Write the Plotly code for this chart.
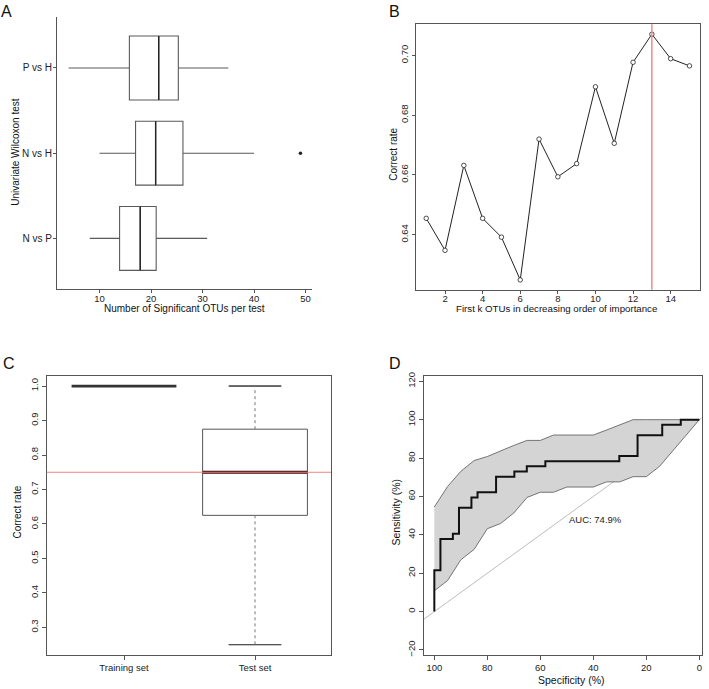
import plotly.graph_objects as go

W, H = 709, 689
FONT = "Liberation Sans, Arial, sans-serif"

# === Panel A: number of significant OTUs per Wilcoxon test ===
a_groups = ["N vs P", "N vs H", "P vs H"]
a_low = [8.1, 10.0, 4.0]
a_q1 = [13.9, 17.0, 15.8]
a_med = [17.9, 20.9, 21.5]
a_q3 = [21.0, 26.2, 25.3]
a_high = [30.9, 40.0, 35.0]
a_out_group = ["N vs H"]
a_out_value = [49]

# === Panel B: correct rate vs first k OTUs ===
b_k = [1, 2, 3, 4, 5, 6, 7, 8, 9, 10, 11, 12, 13, 14, 15]
b_rate = [0.6455, 0.6348, 0.6632, 0.6455, 0.6392, 0.6249, 0.6720, 0.6594,
          0.6638, 0.6895, 0.6706, 0.6977, 0.7071, 0.6989, 0.6965]
b_best_k = 13

# === Panel C: training vs test correct rate ===
c_groups = ["Training set", "Test set"]
c_min = [1.0, 0.25]
c_q1 = [1.0, 0.625]
c_med = [1.0, 0.75]
c_q3 = [1.0, 0.875]
c_max = [1.0, 1.0]
c_ref = 0.75

# === Panel D: ROC curve with CI band ===
d_spec = [100, 100, 97.7, 93.0, 90.7, 86.0, 83.7, 76.7, 69.8, 65.1, 58.1, 30.2, 23.3, 14.0, 7.0, 0]
d_sens = [0, 21.6, 37.8, 40.5, 54.1, 59.5, 62.2, 70.3, 73.0, 75.7, 78.4, 81.1, 91.9, 97.3, 100, 100]
d_ci_spec = [100, 95, 90, 85, 80, 75, 70, 65, 60, 55, 50, 45, 40, 35, 30, 25, 20, 15, 10, 5, 0]
d_ci_upper = [54.5, 65.2, 73.1, 78.7, 80.8, 83.9, 86.6, 89.2, 89.2, 92.0, 92.0, 92.0, 92.0,
              94.6, 97.3, 100, 100, 100, 100, 100, 100]
d_ci_lower = [10.8, 16.2, 27.0, 32.4, 43.2, 45.9, 51.4, 59.5, 62.2, 62.2, 64.9, 64.9, 64.9,
              67.6, 67.6, 70.3, 70.3, 75.7, 83.8, 91.9, 100]
d_auc_text = "AUC: 74.9%"

fig = go.Figure()

# --- A ---
fig.add_trace(go.Box(
    y=a_groups, q1=a_q1, median=a_med, q3=a_q3, lowerfence=a_low, upperfence=a_high,
    orientation="h", width=0.75, whiskerwidth=0, boxpoints=False,
    line=dict(color="#5a5a5a", width=1.1), fillcolor="white",
    xaxis="x", yaxis="y", hoverinfo="skip"))
fig.add_trace(go.Box(
    y=a_groups, q1=a_med, median=a_med, q3=a_med, lowerfence=a_med, upperfence=a_med,
    orientation="h", width=0.75, whiskerwidth=0, boxpoints=False,
    line=dict(color="#222", width=1.4), fillcolor="rgba(0,0,0,0)",
    xaxis="x", yaxis="y", hoverinfo="skip"))
fig.add_trace(go.Scatter(
    x=a_out_value, y=a_out_group, mode="markers",
    marker=dict(color="#222", size=3.5), xaxis="x", yaxis="y"))

# --- B ---
fig.add_trace(go.Scatter(
    x=b_k, y=b_rate, mode="lines+markers",
    line=dict(color="#222", width=1),
    marker=dict(symbol="circle", size=4.5, color="white", line=dict(color="#222", width=0.8)),
    xaxis="x2", yaxis="y2"))
fig.add_shape(type="line", xref="x2", yref="y2 domain", x0=b_best_k, x1=b_best_k, y0=0, y1=1,
              line=dict(color="#f08a8a", width=1.5))

# --- C ---
for g, lo, q1, md, q3, hi in zip(c_groups, c_min, c_q1, c_med, c_q3, c_max):
    if q1 == q3:
        fig.add_trace(go.Box(
            x=[g], q1=[q1], median=[md], q3=[q3], lowerfence=[q1], upperfence=[q3],
            width=0.8, whiskerwidth=0, boxpoints=False,
            line=dict(color="#333", width=2.8), fillcolor="white",
            xaxis="x3", yaxis="y3", hoverinfo="skip"))
        continue
    # dashed whiskers
    fig.add_trace(go.Scatter(x=[g, g], y=[q3, hi], mode="lines",
                             line=dict(color="#777", width=1, dash="dot"),
                             xaxis="x3", yaxis="y3"))
    fig.add_trace(go.Scatter(x=[g, g], y=[q1, lo], mode="lines",
                             line=dict(color="#777", width=1, dash="dot"),
                             xaxis="x3", yaxis="y3"))
    # box
    fig.add_trace(go.Box(
        x=[g], q1=[q1], median=[md], q3=[q3], lowerfence=[q1], upperfence=[q3],
        width=0.8, whiskerwidth=0, boxpoints=False,
        line=dict(color="#555", width=1), fillcolor="white",
        xaxis="x3", yaxis="y3", hoverinfo="skip"))
    # staples and thick median
    for v, wdt, lw, col in [(lo, 0.4, 1, "#555"), (hi, 0.4, 1, "#555"), (md, 0.8, 2.8, "#3a0d0d")]:
        fig.add_trace(go.Box(
            x=[g], q1=[v], median=[v], q3=[v], lowerfence=[v], upperfence=[v],
            width=wdt, whiskerwidth=0, boxpoints=False,
            line=dict(color=col, width=lw), fillcolor="rgba(0,0,0,0)",
            xaxis="x3", yaxis="y3", hoverinfo="skip"))
fig.add_shape(type="line", xref="x3 domain", yref="y3", x0=0, x1=1, y0=c_ref, y1=c_ref,
              line=dict(color="#f27f7f", width=1.1))

# --- D ---
d_xr = [103.9, -0.9]
fig.add_trace(go.Scatter(x=d_xr, y=[100 - v for v in d_xr], mode="lines",
                         line=dict(color="#bdbdbd", width=1), xaxis="x4", yaxis="y4"))
fig.add_trace(go.Scatter(
    x=d_ci_spec + d_ci_spec[::-1], y=d_ci_upper + d_ci_lower[::-1],
    mode="lines", fill="toself", fillcolor="#d4d4d4",
    line=dict(color="#666", width=0.9), xaxis="x4", yaxis="y4"))
fig.add_trace(go.Scatter(x=d_spec, y=d_sens, mode="lines", line_shape="hv",
                         line=dict(color="#111", width=2), xaxis="x4", yaxis="y4"))
fig.add_annotation(x=50, y=48, xref="x4", yref="y4", text=d_auc_text, showarrow=False,
                   xanchor="left", yanchor="middle", font=dict(family=FONT, size=9.5, color="#222"))

tickfont = dict(family=FONT, size=9.5, color="#222")


def ax(domain, anchor, **kw):
    d = dict(domain=domain, anchor=anchor, showline=True, linecolor="#555", linewidth=1,
             ticks="outside", ticklen=4, tickcolor="#555", tickwidth=1,
             showgrid=False, zeroline=False, tickfont=tickfont, fixedrange=True)
    d.update(kw)
    return d


fig.update_layout(
    width=W, height=H, margin=dict(l=0, r=0, t=0, b=0),
    paper_bgcolor="white", plot_bgcolor="white",
    showlegend=False, boxmode="overlay",
    xaxis=ax([57 / W, 312 / W], "y", range=[1.75, 51.25], tickvals=[10, 20, 30, 40, 50],
             ticklen=3, ticklabelstandoff=-3),
    yaxis=ax([1 - 288 / H, 1 - 13 / H], "x", type="category", categoryorder="array",
             categoryarray=a_groups, range=[-0.6, 2.6], ticklen=3, ticklabelstandoff=-1,
             tickfont=dict(family=FONT, size=10, color="#222")),
    xaxis2=ax([415.7 / W, 700 / W], "y2", range=[0.44, 15.56], tickvals=[2, 4, 6, 8, 10, 12, 14],
              mirror=True, ticklen=3, ticklabelstandoff=-3),
    yaxis2=ax([1 - 288.3 / H, 1 - 20.5 / H], "x2", range=[0.6216, 0.7104], ticklen=3,
              tickvals=[0.64, 0.66, 0.68, 0.70], tickformat=".2f", tickangle=-90, mirror=True),
    xaxis3=ax([46.7 / W, 331 / W], "y3", type="category", categoryorder="array",
              categoryarray=c_groups, range=[-0.59, 1.58], mirror=True),
    yaxis3=ax([1 - 656.7 / H, 1 - 375 / H], "x3", range=[0.22, 1.03],
              tickvals=[0.3, 0.4, 0.5, 0.6, 0.7, 0.8, 0.9, 1.0], tickformat=".1f",
              tickangle=-90, mirror=True),
    xaxis4=ax([424 / W, 701.7 / W], "y4", range=d_xr,
              tickvals=[100, 80, 60, 40, 20, 0], mirror=True),
    yaxis4=ax([1 - 656.7 / H, 1 - 375 / H], "x4", range=[-22.6, 122.9],
              tickvals=[-20, 0, 20, 40, 60, 80, 100, 120], tickangle=-90, mirror=True),
)

# axis titles and panel letters
labels = [
    ("Univariate Wilcoxon test", 16, 150, -90, 10),
    ("Number of Significant OTUs per test", 184, 307.5, 0, 10),
    ("Correct rate", 394, 152, -90, 10),
    ("First k OTUs in decreasing order of importance", 556, 307.5, 0, 9.7),
    ("Correct rate", 18, 513, -90, 10),
    ("Sensitivity (%)", 396, 513, -90, 10.5),
    ("Specificity (%)", 571, 682, 0, 10.5),
    ("A", 6, 8, 0, 16),
    ("B", 394, 8, 0, 16),
    ("C", 9, 363, 0, 16),
    ("D", 395, 363, 0, 16),
]
for text, xp, yp, ang, sz in labels:
    fig.add_annotation(x=xp / W, y=1 - yp / H, xref="paper", yref="paper", text=text,
                       showarrow=False, textangle=ang, xanchor="center", yanchor="middle",
                       font=dict(family=FONT, size=sz, color="#111"))

fig.write_html("out.html", config={"displayModeBar": False},
               post_script="document.body.style.margin='0';document.body.style.overflow='hidden';")
